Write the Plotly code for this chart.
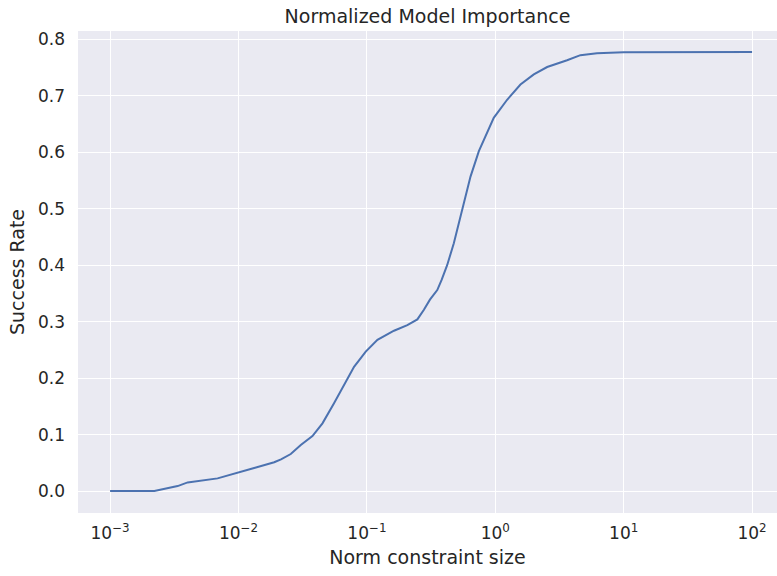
import plotly.graph_objects as go

# Data (norm constraint size vs success rate)
norm_size = [0.001, 0.002213, 0.003357, 0.004018, 0.006871, 0.01, 0.01324, 0.01897,
             0.02143, 0.02553, 0.03055, 0.03767, 0.04508, 0.05546, 0.06637,
             0.07943, 0.09795, 0.1208, 0.1626, 0.2065, 0.2472, 0.278, 0.3097,
             0.3532, 0.3819, 0.4217, 0.4753, 0.5534, 0.6412, 0.7447, 0.9183,
             0.9727, 1.236, 1.570, 1.995, 2.535, 3.622, 4.603, 6.194, 10.0, 100.0]
success_rate = [0.0, 0.0, 0.0089, 0.0154, 0.0225, 0.0325, 0.041, 0.051,
                0.0562, 0.0656, 0.0816, 0.0975, 0.120, 0.1555, 0.188,
                0.220, 0.247, 0.268, 0.284, 0.294, 0.304, 0.321, 0.339,
                0.356, 0.374, 0.400, 0.439, 0.501, 0.557, 0.602, 0.649,
                0.661, 0.693, 0.720, 0.738, 0.751, 0.763, 0.772, 0.7755, 0.777, 0.7775]

x_tickvals = [1e-3, 1e-2, 1e-1, 1e0, 1e1, 1e2]
x_ticktext = ["10<sup>\u22123</sup>", "10<sup>\u22122</sup>", "10<sup>\u22121</sup>",
              "10<sup>0</sup>", "10<sup>1</sup>", "10<sup>2</sup>"]
y_tickvals = [0.0, 0.1, 0.2, 0.3, 0.4, 0.5, 0.6, 0.7, 0.8]
y_ticktext = ["0.0", "0.1", "0.2", "0.3", "0.4", "0.5", "0.6", "0.7", "0.8"]

FONT = "DejaVu Sans"
TXT = "#262626"

fig = go.Figure()
fig.add_trace(go.Scatter(
    x=norm_size, y=success_rate, mode="lines",
    line=dict(color="#4C72B0", width=2),
    showlegend=False,
))

fig.update_layout(
    width=777, height=576,
    margin=dict(l=78, r=0, t=31, b=63),
    paper_bgcolor="white",
    plot_bgcolor="#EAEAF2",
    font=dict(family=FONT, color=TXT, size=17),
    title=dict(text="Normalized Model Importance", x=0.5, xref="paper",
               xanchor="center", y=1 - 16 / 576, yanchor="middle",
               font=dict(family=FONT, size=19, color=TXT)),
    xaxis=dict(
        type="log", range=[-3.25, 2.194],
        tickvals=x_tickvals, ticktext=x_ticktext,
        showgrid=True, gridcolor="white", gridwidth=1.3,
        zeroline=False, showline=False, ticks="",
        ticklabelstandoff=8,
        tickfont=dict(family=FONT, size=17, color=TXT),
        title=dict(text="Norm constraint size", standoff=8,
                   font=dict(family=FONT, size=19, color=TXT)),
    ),
    yaxis=dict(
        range=[-0.0388, 0.8148],
        tickvals=y_tickvals, ticktext=y_ticktext,
        showgrid=True, gridcolor="white", gridwidth=1.3,
        zeroline=False, showline=False, ticks="",
        ticklabelstandoff=12,
        tickfont=dict(family=FONT, size=17, color=TXT),
        title=dict(text="Success Rate", standoff=8,
                   font=dict(family=FONT, size=19, color=TXT)),
    ),
)

fig.write_html("out.html")
